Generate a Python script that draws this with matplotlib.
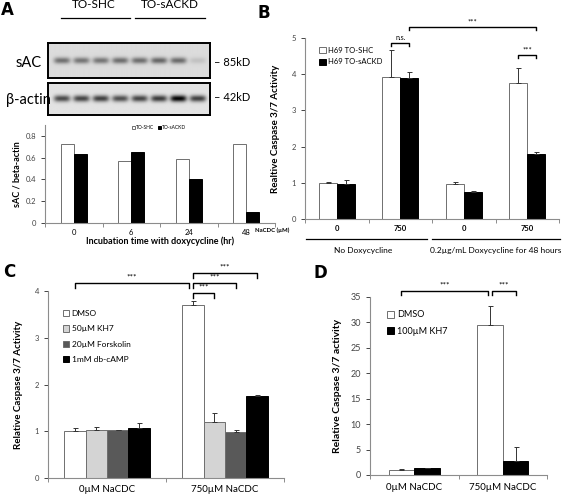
import numpy as np
import matplotlib
matplotlib.use("Agg")
import matplotlib.pyplot as plt

plt.rcParams['font.family'] = ['Lato', 'DejaVu Sans']

W, H = 568, 496

# ---- data ----
lanes = ["0", "6", "24", "48", "0", "6", "24", "48"]
sac_band = [0.42, 0.40, 0.40, 0.43, 0.43, 0.46, 0.44, 0.10]
actin_band = [0.60, 0.62, 0.64, 0.58, 0.62, 0.66, 0.88, 0.64]

a_times = ["0", "6", "24", "48"]
a_shc = [0.73, 0.57, 0.59, 0.73]
a_sackd = [0.63, 0.65, 0.40, 0.10]

b_nacdc = ["0", "750", "0", "750"]
b_shc = [1.00, 3.93, 0.97, 3.77]
b_shc_err = [0.02, 0.73, 0.05, 0.40]
b_sackd = [0.97, 3.90, 0.75, 1.80]
b_sackd_err = [0.10, 0.17, 0.03, 0.06]

c_groups = ["0µM NaCDC", "750µM NaCDC"]
c_series = ["DMSO", "50µM KH7", "20µM Forskolin", "1mM db-cAMP"]
c_vals = [[1.00, 3.69], [1.03, 1.19], [1.02, 0.98], [1.07, 1.75]]
c_errs = [[0.08, 0.10], [0.07, 0.21], [0.01, 0.05], [0.10, 0.02]]
c_colors = ["white", "#d4d4d4", "#595959", "black"]

d_groups = ["0µM NaCDC", "750µM NaCDC"]
d_dmso = [1.0, 29.5]
d_dmso_err = [0.1, 3.8]
d_kh7 = [1.3, 2.7]
d_kh7_err = [0.15, 2.9]

fig = plt.figure(figsize=(W / 100, H / 100), dpi=100)


def px_axes(l, t, r, b):
    return fig.add_axes([l / W, 1 - b / H, (r - l) / W, (b - t) / H])


def excel_style(ax, ncat, labels, fs, bold=False, pad=4):
    for s in ["top", "right"]:
        ax.spines[s].set_visible(False)
    for s in ["left", "bottom"]:
        ax.spines[s].set_color("#8c8c8c")
        ax.spines[s].set_linewidth(0.8)
    ax.set_xlim(-0.5, ncat - 0.5)
    ax.set_xticks(np.arange(ncat + 1) - 0.5)
    ax.set_xticklabels([])
    ax.set_xticks(np.arange(ncat), minor=True)
    ax.set_xticklabels(labels, minor=True, fontsize=fs,
                       fontweight="bold" if bold else "normal")
    ax.tick_params(which="major", direction="out", length=3, color="#8c8c8c", width=0.7)
    ax.tick_params(axis="x", which="minor", length=0, pad=pad)
    ax.tick_params(axis="y", labelsize=5.5, colors="#444444")


def bars(ax, x, vals, errs, w, color, label):
    ax.bar(x, vals, w, color=color, edgecolor="#6f6f6f" if color != "black" else "black",
           linewidth=0.7, label=label, zorder=2)
    if errs is not None:
        ax.errorbar(x, vals, yerr=[np.zeros(len(vals)), errs], fmt="none",
                    ecolor="#333333", elinewidth=0.7, capsize=1.8, capthick=0.7, zorder=3)


def bracket(ax, x1, x2, y, h, text, fs=6):
    ax.plot([x1, x1, x2, x2], [y - h, y, y, y - h], color="black", lw=1.0, clip_on=False)
    ax.text((x1 + x2) / 2, y + h * 0.6, text, ha="center", va="bottom", fontsize=fs,
            clip_on=False)


# ---- panel A: blots ----
def blot(ax, inten, bg, sy):
    xs = np.linspace(-0.72, 7.62, 640)
    ys = np.linspace(0, 1, 140)
    X, Y = np.meshgrid(xs, ys)
    img = np.full(X.shape, bg)
    for i, v in enumerate(inten):
        img -= v * np.exp(-((X - i) / 0.42) ** 4) * np.exp(-((Y - 0.5) / sy) ** 2)
    ax.imshow(img, cmap="gray", vmin=0, vmax=1, aspect="auto",
              extent=(-0.72, 7.62, 1, 0), interpolation="bilinear")
    ax.set_xticks([])
    ax.set_yticks([])
    for s in ax.spines.values():
        s.set_linewidth(1.4)


ax1 = px_axes(48, 43, 210, 78)
blot(ax1, sac_band, 0.86, 0.09)
ax2 = px_axes(48, 83, 210, 115)
blot(ax2, actin_band, 0.89, 0.10)

for i, lab in enumerate(lanes):
    ax1.text(i, -0.28, lab, transform=ax1.get_xaxis_transform(), ha="center",
             va="center", fontsize=8)
ax1.plot([-0.07, 3.5], [1.72, 1.72], color="black", lw=0.9,
         transform=ax1.get_xaxis_transform(), clip_on=False)
ax1.plot([3.75, 7.35], [1.72, 1.72], color="black", lw=0.9,
         transform=ax1.get_xaxis_transform(), clip_on=False)
ax1.text(1.65, 1.95, "TO-SHC", transform=ax1.get_xaxis_transform(), ha="center",
         va="bottom", fontsize=8.5)
ax1.text(5.55, 1.95, "TO-sACKD", transform=ax1.get_xaxis_transform(), ha="center",
         va="bottom", fontsize=8.5)
fig.text(29 / W, 1 - 63 / H, "sAC", ha="center", va="center", fontsize=10.5)
fig.text(28 / W, 1 - 100 / H, "β-actin", ha="center", va="center", fontsize=10.5)
fig.text(214 / W, 1 - 62 / H, "– 85kD", ha="left", va="center", fontsize=8)
fig.text(214 / W, 1 - 98 / H, "– 42kD", ha="left", va="center", fontsize=8)

# ---- panel A: bar chart ----
axa = px_axes(45, 125, 275, 223)
xa = np.arange(len(a_times))
wa = 0.23
bars(axa, xa - wa / 2, a_shc, None, wa, "white", "TO-SHC")
bars(axa, xa + wa / 2, a_sackd, None, wa, "black", "TO-sACKD")
excel_style(axa, 4, a_times, 5.5)
axa.set_ylim(0, 0.9)
axa.set_yticks([0, 0.2, 0.4, 0.6, 0.8])
axa.set_yticklabels(["0", "0.2", "0.4", "0.6", "0.8"])
axa.set_ylabel("sAC / beta-actin", fontsize=6.5, fontweight="bold", labelpad=3)
axa.set_xlabel("Incubation time with doxycycline (hr)", fontsize=6.5,
               fontweight="bold", labelpad=1)
axa.legend(loc="upper left", bbox_to_anchor=(0.36, 1.04), ncol=2, fontsize=3.5,
           frameon=False, handlelength=0.6, handleheight=0.6, handletextpad=0.2,
           columnspacing=0.8)

# ---- panel B ----
axb = px_axes(305, 38, 559, 219)
xb = np.arange(len(b_nacdc))
wb = 0.28
bars(axb, xb - wb / 2, b_shc, b_shc_err, wb, "white", "H69 TO-SHC")
bars(axb, xb + wb / 2, b_sackd, b_sackd_err, wb, "black", "H69 TO-sACKD")
excel_style(axb, 4, b_nacdc, 5.5, bold=True)
axb.set_ylim(0, 5)
axb.set_yticks(range(6))
axb.set_ylabel("Realtive Caspase 3/7 Activity", fontsize=7, fontweight="bold", labelpad=8)
axb.legend(loc="upper left", bbox_to_anchor=(0.03, 0.99), fontsize=5.5, frameon=False,
           handlelength=0.8, handleheight=0.8, handletextpad=0.3, labelspacing=0.6)
bracket(axb, xb[1] - wb / 2, xb[1] + wb / 2, 4.86, 0.08, "n.s.", fs=5)
bracket(axb, xb[1] + wb / 2, xb[3] + wb / 2, 5.3, 0.08, "***", fs=5.5)
bracket(axb, xb[3] - wb / 2, xb[3] + wb / 2, 4.53, 0.08, "***", fs=5.5)
tb = axb.get_xaxis_transform()
axb.text(-0.75, -0.06, "NaCDC (µM)", transform=tb, ha="right", va="center",
         fontsize=4.3, fontweight="bold")
axb.plot([-0.48, 1.42], [-0.11, -0.11], color="black", lw=0.9, transform=tb, clip_on=False)
axb.plot([1.5, 3.52], [-0.11, -0.11], color="black", lw=0.9, transform=tb, clip_on=False)
axb.text(0.42, -0.175, "No Doxycycline", transform=tb, ha="center", va="center", fontsize=6)
axb.text(2.5, -0.175, "0.2µg/mL Doxycycline for 48 hours", transform=tb, ha="center",
         va="center", fontsize=6)

# ---- panel C ----
axc = px_axes(48, 291, 284, 478)
xc = np.arange(len(c_groups))
wc = 0.182
for k, name in enumerate(c_series):
    bars(axc, xc + (k - 1.5) * wc, c_vals[k], c_errs[k], wc, c_colors[k], name)
excel_style(axc, 2, c_groups, 7, pad=5)
axc.set_ylim(0, 4)
axc.set_yticks(range(5))
axc.set_ylabel("Relative Caspase 3/7 Activity", fontsize=7, fontweight="bold", labelpad=8)
axc.legend(loc="upper left", bbox_to_anchor=(0.03, 0.94), fontsize=6, frameon=False,
           handlelength=0.8, handleheight=0.8, handletextpad=0.3, labelspacing=1.0)
x_w1 = xc[1] - 1.5 * wc
bracket(axc, xc[0] - 1.5 * wc, x_w1 - 0.03, 4.17, 0.1, "***")
bracket(axc, x_w1, xc[1] - 0.5 * wc, 3.96, 0.1, "***")
bracket(axc, x_w1, xc[1] + 0.5 * wc, 4.17, 0.1, "***")
bracket(axc, x_w1, xc[1] + 1.5 * wc, 4.38, 0.1, "***")

# ---- panel D ----
axd = px_axes(370, 297, 547, 475)
xd = np.arange(len(d_groups))
wd = 0.29
bars(axd, xd - wd / 2, d_dmso, d_dmso_err, wd, "white", "DMSO")
bars(axd, xd + wd / 2, d_kh7, d_kh7_err, wd, "black", "100µM KH7")
excel_style(axd, 2, d_groups, 7, pad=6)
axd.set_ylim(0, 35)
axd.set_yticks(range(0, 36, 5))
axd.tick_params(axis="y", labelsize=6.5)
axd.set_ylabel("Relative Caspase 3/7 activity", fontsize=7.5, fontweight="bold", labelpad=6)
axd.legend(loc="upper left", bbox_to_anchor=(0.05, 0.97), fontsize=6.5, frameon=False,
           handlelength=0.8, handleheight=0.8, handletextpad=0.3, labelspacing=0.8)
bracket(axd, xd[0] - wd / 2, xd[1] - wd / 2 - 0.02, 36.2, 0.9, "***")
bracket(axd, xd[1] - wd / 2 + 0.02, xd[1] + wd / 2, 36.2, 0.9, "***")

# ---- panel letters ----
for lab, x, y in [("A", 7, 10), ("B", 264, 13), ("C", 9, 272), ("D", 320, 273)]:
    fig.text(x / W, 1 - y / H, lab, ha="center", va="center", fontsize=12,
             fontweight="bold", family="DejaVu Sans")

fig.savefig("out.png", dpi=100)
